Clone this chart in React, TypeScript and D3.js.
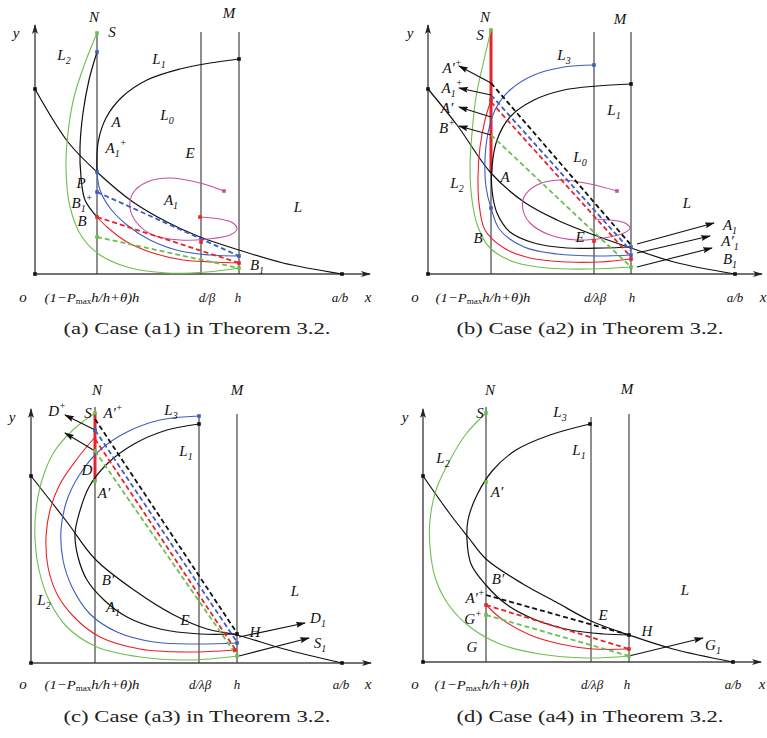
import React from "react";
import * as d3 from "d3";

type Pt = [number, number];
type Lab = [string, number, number];
type Mark = [number, number, string];
type Seg = [Pt, Pt, string];

// ---------- panel (a): case (a1) ----------
const aVerticals: Pt[] = [[62, 241], [166, 242], [204, 242]];
const aL: Pt[] = [[0, 185], [33, 132], [62, 102], [98, 72], [132, 52], [165, 37], [204, 24], [248, 11], [307, 0]];
const aUpper: Pt[] = [[62, 102], [63, 131], [71, 156], [87, 177], [112, 194], [145, 205], [175, 211], [204, 215]];
const aBulge: Pt[] = [[62, 222], [54, 194], [48, 161], [45, 127], [46, 97], [50, 74], [62, 57]];
const aGreen: Pt[] = [[62, 241], [50, 211], [39, 177], [33, 141], [31, 107], [35, 67], [47, 37], [65, 19], [92, 7], [132, 1], [172, 2], [204, 6]];
const aBlue: Pt[] = [[62, 102], [65, 84], [75, 66], [92, 49], [115, 34], [145, 23], [175, 19], [204, 18]];
const aRed: Pt[] = [[62, 57], [72, 47], [92, 32], [118, 21], [148, 14], [178, 12], [204, 11]];
const aLoop: Pt[] = [[189, 83], [165, 91], [135, 96], [112, 92], [98, 81], [95, 66], [102, 51], [118, 39], [145, 34], [172, 35], [195, 39], [202, 45], [198, 51], [185, 55], [165, 57]];
const aDashes: Seg[] = [[[62, 82], [204, 18], "blue"], [[62, 57], [204, 11], "red"], [[62, 37], [204, 6], "green"]];
const aPoints: Mark[] = [[62, 241, "green"], [62, 222, "blue"], [204, 215, "black"], [0, 185, "black"], [62, 102, "blue"], [62, 82, "blue"], [62, 57, "red"], [62, 37, "green"], [189, 83, "magenta"], [165, 57, "red"], [166, 32, "red"], [204, 18, "blue"], [204, 11, "red"], [204, 6, "green"], [0, 0, "black"], [307, 0, "black"]];
const aLabels: Lab[] = [["N", 59, 257], ["S", 77, 242], ["M", 194, 261], ["y", -19, 241], ["L_2", 29, 219], ["L_1", 124, 215], ["L_0", 132, 159], ["A", 81, 152], ["A_1^+", 81, 126], ["E", 155, 121], ["P", 46, 91], ["B_1^+", 47, 71], ["B", 47, 53], ["A_1", 136, 74], ["L", 263, 67], ["B_1", 222, 9]];
const aTicks: [string, number][] = [["o", -12], ["F", 57], ["d/β", 172], ["h", 203], ["a/b", 305], ["x", 333]];

// ---------- panel (b): case (a2) ----------
const bVerticals: Pt[] = [[63, 244], [166, 242], [203, 242]];
const bL: Pt[] = [[0, 185], [29, 149], [63, 101], [96, 72], [129, 54], [166, 39], [203, 26], [246, 12], [307, 0]];
const bBlack: Pt[] = [[203, 190], [169, 188], [136, 184], [106, 174], [82, 157], [69, 134], [64, 107], [64, 84], [69, 61], [82, 42], [106, 31], [139, 26], [176, 26], [203, 27]];
const bBlue: Pt[] = [[166, 209], [136, 207], [106, 199], [82, 184], [67, 164], [60, 141], [57, 114], [58, 87], [63, 66], [72, 44], [96, 27], [129, 20], [169, 18], [203, 19]];
const bRed: Pt[] = [[63, 174], [57, 154], [52, 127], [50, 97], [51, 71], [57, 44], [76, 26], [102, 16], [139, 12], [172, 12], [203, 15]];
const bGreen: Pt[] = [[63, 244], [56, 214], [48, 177], [44, 141], [42, 107], [44, 74], [50, 47], [62, 26], [86, 12], [119, 6], [162, 5], [203, 7]];
const bLoop: Pt[] = [[189, 83], [162, 90], [132, 94], [109, 89], [96, 77], [95, 64], [102, 51], [122, 39], [149, 34], [176, 36], [196, 41], [202, 46], [197, 51], [182, 54], [166, 55]];
const bDashes: Seg[] = [[[63, 191], [203, 29], "black"], [[63, 179], [203, 23], "blue"], [[63, 172], [203, 17], "red"], [[63, 139], [203, 7], "green"]];
const bThick: Pt[] = [[63, 244], [63, 101]];
const bArrows: [Pt, Pt][] = [[[63, 191], [31, 208]], [[63, 179], [31, 186]], [[63, 157], [31, 167]], [[63, 139], [31, 148]], [[209, 30], [286, 51]], [[209, 21], [282, 38]], [[209, 7], [284, 26]]];
const bPoints: Mark[] = [[63, 244, "green"], [0, 185, "black"], [166, 209, "blue"], [203, 190, "black"], [63, 66, "blue"], [63, 174, "red"], [189, 83, "magenta"], [166, 33, "red"], [203, 27, "blue"], [203, 19, "blue"], [203, 15, "red"], [203, 7, "green"], [0, 0, "black"], [307, 0, "black"]];
const bLabels: Lab[] = [["N", 57, 257], ["M", 192, 255], ["S", 52, 239], ["y", -18, 241], ["L_3", 136, 219], ["A'^+", 24, 206], ["A_1^+", 24, 186], ["A'", 19, 166], ["B^+", 19, 146], ["L_1", 186, 164], ["L_0", 152, 117], ["L_2", 29, 91], ["A", 77, 97], ["B", 50, 36], ["E", 152, 37], ["L", 259, 71], ["A_1", 302, 49], ["A'_1", 302, 33], ["B_1", 302, 15]];
const bTicks: [string, number][] = [["o", -13], ["F", 55], ["d/λβ", 167], ["h", 204], ["a/b", 307], ["x", 335]];

// ---------- panel (c): case (a3) ----------
const cVerticals: Pt[] = [[64, 256], [168, 248], [206, 249]];
const cL: Pt[] = [[0, 187], [36, 141], [64, 104], [103, 73], [143, 48], [176, 34], [206, 28], [253, 14], [311, 0]];
const cBlack: Pt[] = [[168, 239], [136, 233], [103, 219], [76, 199], [58, 176], [48, 149], [44, 129], [47, 106], [56, 83], [73, 63], [96, 46], [129, 34], [169, 29], [206, 29]];
const cBlue: Pt[] = [[168, 247], [129, 243], [96, 231], [69, 213], [49, 189], [36, 163], [30, 133], [32, 103], [41, 76], [59, 49], [86, 31], [123, 21], [166, 19], [206, 20]];
const cRed: Pt[] = [[64, 226], [46, 204], [29, 179], [19, 153], [15, 126], [17, 96], [26, 69], [43, 46], [69, 26], [109, 14], [156, 11], [204, 13]];
const cGreen: Pt[] = [[64, 250], [43, 234], [23, 211], [11, 183], [5, 153], [4, 123], [8, 93], [18, 63], [36, 36], [66, 16], [109, 6], [159, 3], [206, 7]];
const cDashes: Seg[] = [[[64, 244], [206, 30], "black"], [[64, 233], [206, 21], "blue"], [[64, 224], [204, 14], "red"], [[64, 212], [206, 7], "green"]];
const cThick: Pt[] = [[64, 250], [64, 182]];
const cArrows: [Pt, Pt][] = [[[64, 233], [34, 248]], [[64, 212], [34, 230]], [[208, 26], [274, 40]], [[208, 7], [278, 25]]];
const cPoints: Mark[] = [[64, 250, "green"], [168, 247, "blue"], [168, 239, "black"], [0, 187, "black"], [64, 182, "green"], [64, 233, "blue"], [64, 212, "green"], [206, 29, "black"], [206, 20, "blue"], [204, 13, "red"], [206, 7, "green"], [0, 0, "black"], [311, 0, "black"]];
const cLabels: Lab[] = [["N", 66, 273], ["M", 206, 273], ["y", -19, 246], ["D^+", 26, 252], ["S", 57, 250], ["A'^+", 82, 250], ["L_3", 140, 253], ["L_1", 155, 212], ["D", 56, 193], ["A'", 73, 170], ["B'", 77, 83], ["L_2", 13, 63], ["A_1", 82, 56], ["E", 154, 43], ["L", 264, 72], ["H", 224, 31], ["D_1", 287, 45], ["S_1", 289, 20]];
const cTicks: [string, number][] = [["o", -8], ["F", 61], ["d/λβ", 169], ["h", 206], ["a/b", 310], ["x", 337]];

// ---------- panel (d): case (a4) ----------
const dVerticals: Pt[] = [[63, 255], [168, 245], [206, 248]];
const dL: Pt[] = [[0, 186], [27, 148], [45, 125], [63, 103], [100, 78], [133, 60], [168, 41], [206, 27], [250, 13], [310, 0]];
const dBlack: Pt[] = [[167, 238], [127, 227], [93, 212], [70, 192], [54, 167], [45, 142], [44, 122], [48, 98], [62, 78], [83, 58], [113, 42], [147, 32], [180, 28], [206, 27]];
const dGreen: Pt[] = [[63, 249], [43, 228], [27, 202], [13, 172], [7, 142], [7, 115], [12, 85], [25, 58], [47, 35], [77, 18], [117, 8], [163, 4], [206, 6]];
const dRed: Pt[] = [[63, 57], [80, 42], [107, 27], [137, 18], [170, 13], [206, 13]];
const dDashes: Seg[] = [[[63, 67], [206, 27], "black"], [[63, 57], [206, 13], "red"], [[63, 47], [206, 6], "green"]];
const dArrows: [Pt, Pt][] = [[[206, 6], [280, 24]]];
const dPoints: Mark[] = [[63, 249, "green"], [167, 238, "black"], [0, 186, "black"], [63, 180, "green"], [206, 27, "black"], [63, 57, "red"], [206, 13, "red"], [63, 47, "green"], [206, 6, "green"], [0, 0, "black"], [310, 0, "black"]];
const dLabels: Lab[] = [["N", 67, 272], ["M", 204, 273], ["S", 57, 249], ["y", -18, 245], ["L_3", 137, 250], ["L_2", 20, 204], ["L_1", 156, 212], ["A'", 74, 170], ["B'", 75, 83], ["A'^+", 52, 64], ["G^+", 50, 43], ["G", 49, 15], ["E", 180, 47], ["H", 224, 31], ["L", 262, 72], ["G_1", 290, 17]];
const dTicks: [string, number][] = [["o", -8], ["F", 59], ["d/λβ", 169], ["h", 204], ["a/b", 310], ["x", 339]];

const COL: Record<string, string> = {
  black: "#111",
  blue: "#3d5cc4",
  red: "#e8232a",
  green: "#6cbf4e",
  magenta: "#c4519f",
};

const SERIF = "'Liberation Serif', 'Times New Roman', serif";

interface Curve { pts: Pt[]; color: string; }
interface PanelCfg {
  ox: number; oy: number; yTop: number; xEnd: number;
  verticals: Pt[]; curves: Curve[]; dashes: Seg[]; thick?: Pt[];
  arrows: [Pt, Pt][]; points: Mark[]; labels: Lab[]; ticks: [string, number][]; tickY: number;
  caption: string; capX: number; capY: number;
}

const panels: PanelCfg[] = [
  {
    ox: 35, oy: 274, yTop: 249, xEnd: 335, verticals: aVerticals,
    curves: [
      { pts: aL, color: "black" }, { pts: aUpper, color: "black" }, { pts: aBulge, color: "black" },
      { pts: aGreen, color: "green" }, { pts: aBlue, color: "blue" }, { pts: aRed, color: "red" },
      { pts: aLoop, color: "magenta" },
    ],
    dashes: aDashes, arrows: [], points: aPoints, labels: aLabels, ticks: aTicks, tickY: -24,
    caption: "(a)  Case (a1) in Theorem 3.2.", capX: 197, capY: 329,
  },
  {
    ox: 428, oy: 274, yTop: 249, xEnd: 334, verticals: bVerticals,
    curves: [
      { pts: bL, color: "black" }, { pts: bBlack, color: "black" }, { pts: bBlue, color: "blue" },
      { pts: bRed, color: "red" }, { pts: bGreen, color: "green" }, { pts: bLoop, color: "magenta" },
    ],
    dashes: bDashes, thick: bThick, arrows: bArrows, points: bPoints, labels: bLabels, ticks: bTicks, tickY: -24,
    caption: "(b)  Case (a2) in Theorem 3.2.", capX: 590, capY: 329,
  },
  {
    ox: 31, oy: 663, yTop: 254, xEnd: 340, verticals: cVerticals,
    curves: [
      { pts: cL, color: "black" }, { pts: cBlack, color: "black" }, { pts: cBlue, color: "blue" },
      { pts: cRed, color: "red" }, { pts: cGreen, color: "green" },
    ],
    dashes: cDashes, thick: cThick, arrows: cArrows, points: cPoints, labels: cLabels, ticks: cTicks, tickY: -22,
    caption: "(c)  Case (a3) in Theorem 3.2.", capX: 197, capY: 717,
  },
  {
    ox: 423, oy: 662, yTop: 253, xEnd: 338, verticals: dVerticals,
    curves: [
      { pts: dL, color: "black" }, { pts: dBlack, color: "black" }, { pts: dGreen, color: "green" },
      { pts: dRed, color: "red" },
    ],
    dashes: dDashes, arrows: dArrows, points: dPoints, labels: dLabels, ticks: dTicks, tickY: -23,
    caption: "(d)  Case (a4) in Theorem 3.2.", capX: 590, capY: 717,
  },
];

function Label({ s, x, y }: { s: string; x: number; y: number }) {
  const m = s.match(/^([^_^]+)(?:_([^_^]+))?(?:\^(.+))?$/)!;
  const base = m[1].replace("'", "\u2032");
  const sub = m[2];
  const sup = m[3];
  return (
    <text x={x} y={y + 5} textAnchor="middle" fontFamily={SERIF} fontStyle="italic" fontSize={15} fill="#111">
      {base}
      {sub && <tspan fontSize={10} dy={4}>{sub}</tspan>}
      {sup && <tspan fontSize={10} dy={sub ? -11 : -7}>{sup}</tspan>}
    </text>
  );
}

function Panel({ cfg }: { cfg: PanelCfg }) {
  const x = d3.scaleLinear().domain([0, 300]).range([cfg.ox, cfg.ox + 300]);
  const y = d3.scaleLinear().domain([0, 250]).range([cfg.oy, cfg.oy - 250]);
  const line = d3.line<Pt>().x(d => x(d[0])).y(d => y(d[1])).curve(d3.curveCatmullRom.alpha(0.5));

  return (
    <g>
      {/* axes */}
      <line x1={x(0)} y1={y(0)} x2={x(0)} y2={y(cfg.yTop)} stroke="#444" strokeWidth={1.4} markerEnd="url(#axisHead)" />
      <line x1={x(0)} y1={y(0)} x2={x(cfg.xEnd)} y2={y(0)} stroke="#444" strokeWidth={1.4} markerEnd="url(#axisHead)" />
      {cfg.verticals.map(([vx, top], i) => (
        <line key={i} x1={x(vx)} y1={y(0)} x2={x(vx)} y2={y(top)} stroke="#333" strokeWidth={1.1} />
      ))}
      {cfg.thick && (
        <line x1={x(cfg.thick[0][0])} y1={y(cfg.thick[0][1])} x2={x(cfg.thick[1][0])} y2={y(cfg.thick[1][1])}
          stroke={COL.red} strokeWidth={3} />
      )}
      {cfg.curves.map((c, i) => (
        <path key={i} d={line(c.pts) || ""} fill="none" stroke={COL[c.color]} strokeWidth={c.color === "black" ? 1.2 : 1.1} />
      ))}
      {cfg.dashes.map(([p, q, c], i) => (
        <line key={i} x1={x(p[0])} y1={y(p[1])} x2={x(q[0])} y2={y(q[1])}
          stroke={c === "black" ? "#111" : COL[c]} strokeWidth={1.8} strokeDasharray="5,3" />
      ))}
      {cfg.arrows.map(([p, q], i) => (
        <line key={i} x1={x(p[0])} y1={y(p[1])} x2={x(q[0])} y2={y(q[1])} stroke="#111" strokeWidth={1.1} markerEnd="url(#arrHead)" />
      ))}
      {cfg.points.map(([px, py, c], i) => (
        <rect key={i} x={x(px) - 1.8} y={y(py) - 1.8} width={3.6} height={3.6} fill={COL[c]} />
      ))}
      {cfg.labels.map(([s, lx, ly], i) => <Label key={i} s={s} x={x(lx)} y={y(ly)} />)}
      {cfg.ticks.map(([t, tx], i) =>
        t === "F" ? (
          <text key={i} x={x(tx)} y={y(cfg.tickY) + 4} textAnchor="middle" fontFamily={SERIF} fontStyle="italic"
            fontSize={13} fill="#111" textLength={95} lengthAdjust="spacingAndGlyphs">
            (1−P<tspan fontSize={8} fontStyle="normal" dy={2}>max</tspan><tspan dy={-2}>h/h+θ)h</tspan>
          </text>
        ) : (
          <text key={i} x={x(tx)} y={y(cfg.tickY) + 4} textAnchor="middle" fontFamily={SERIF} fontStyle="italic"
            fontSize={t === "o" || t === "x" ? 15 : 13} fill="#111">{t}</text>
        )
      )}
      <text x={cfg.capX} y={cfg.capY + 5} textAnchor="middle" fontFamily={SERIF} fontSize={17} fill="#222"
        textLength={267} lengthAdjust="spacingAndGlyphs">{cfg.caption}</text>
    </g>
  );
}

export default function App() {
  return (
    <svg width={767} height={738} viewBox="0 0 767 738"
      style={{ position: "absolute", left: 0, top: 0, background: "#fff", display: "block" }}>
      <defs>
        <marker id="axisHead" viewBox="0 0 10 6" refX={9} refY={3} markerWidth={10} markerHeight={6}
          markerUnits="userSpaceOnUse" orient="auto">
          <path d="M0,0 L10,3 L0,6 L2.5,3 z" fill="#222" />
        </marker>
        <marker id="arrHead" viewBox="0 0 10 6" refX={9} refY={3} markerWidth={10} markerHeight={6}
          markerUnits="userSpaceOnUse" orient="auto">
          <path d="M0,0 L10,3 L0,6 L1.5,3 z" fill="#111" />
        </marker>
      </defs>
      <rect width={767} height={738} fill="#fff" />
      {panels.map((p, i) => <Panel key={i} cfg={p} />)}
    </svg>
  );
}
